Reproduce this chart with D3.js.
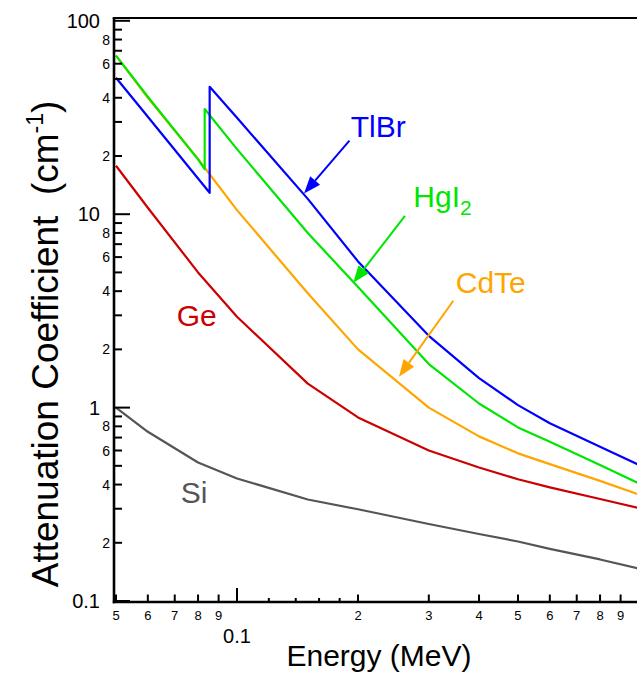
<!DOCTYPE html>
<html><head><meta charset="utf-8">
<script src="https://cdn.jsdelivr.net/npm/d3@7"></script>
<style>
html,body{margin:0;padding:0;background:#fff;overflow:hidden}
svg{display:block;font-family:"Liberation Sans",Arial,sans-serif}
</style></head>
<body>
<svg id="chart" width="637" height="677"></svg>
<script>
// ---- data ----
const energy = [0.05, 0.06, 0.08, 0.1, 0.15, 0.2, 0.3, 0.4, 0.5, 0.6, 0.8, 1.0];
const siValues   = [1.00, 0.75, 0.52, 0.43, 0.335, 0.298, 0.25, 0.222, 0.203, 0.186, 0.164, 0.147];
const geValues   = [17.8, 10.8, 5.0, 2.95, 1.33, 0.89, 0.60, 0.49, 0.426, 0.387, 0.337, 0.302];
const cdteValues = [66, 40, 19.3, 10.5, 3.9, 2.0, 1.0, 0.71, 0.58, 0.51, 0.418, 0.355];
const hgi2Energy = [0.05, 0.06, 0.08, 0.0831, 0.0831, 0.1, 0.15, 0.2, 0.3, 0.4, 0.5, 0.6, 0.8, 1.0];
const hgi2Values = [66, 40.5, 19.2, 17.1, 35, 21.7, 8.0, 4.2, 1.68, 1.05, 0.79, 0.665, 0.505, 0.405];
const tlbrEnergy = [0.05, 0.06, 0.08, 0.0855, 0.0855, 0.1, 0.15, 0.2, 0.3, 0.4, 0.5, 0.6, 0.8, 1.0];
const tlbrValues = [50.8, 31.9, 15.3, 12.9, 45.6, 31.5, 12.0, 5.7, 2.35, 1.42, 1.03, 0.83, 0.628, 0.505];

const xMinorTicks = [0.05, 0.06, 0.07, 0.08, 0.09, 0.2, 0.3, 0.4, 0.5, 0.6, 0.7, 0.8, 0.9];
const xMinorLabels = ["5","6","7","8","9","2","3","4","5","6","7","8","9"];
const xMajorTicks = [0.1];
const xMajorLabels = ["0.1"];
const xSmallTicks = [0.12, 0.14, 0.16, 0.18];
const yMajorTicks = [0.1, 1, 10, 100];
const yMajorLabels = ["0.1", "1", "10", "100"];
const yMinorTicks = [0.2,0.3,0.4,0.5,0.6,0.7,0.8,0.9, 2,3,4,5,6,7,8,9, 20,30,40,50,60,70,80,90];
const yMinorLabeled = [0.2,0.4,0.6,0.8, 2,4,6,8, 20,40,60,80];
const yMinorLabels = ["2","4","6","8","2","4","6","8","2","4","6","8"];

// series: name, color, x, y, label anchor, arrow (tail -> tip) in data coords
const series = [
  {name:"Si",   color:"#555555", x:energy, y:siValues,   label:[0.0725, 0.32]},
  {name:"Ge",   color:"#cc0000", x:energy, y:geValues,   label:[0.0708, 2.64]},
  {name:"CdTe", color:"#ffa500", x:energy, y:cdteValues, label:[0.350, 3.93], arrow:[[0.3452,3.57],[0.2529,1.445]]},
  {name:"HgI",  sub:"2", color:"#00e600", x:hgi2Energy, y:hgi2Values, label:[0.2746, 10.94], arrow:[[0.2617,9.79],[0.1946,4.42]]},
  {name:"TlBr", color:"#0000ff", x:tlbrEnergy, y:tlbrValues, label:[0.1918, 25.0], arrow:[[0.1904,24.0],[0.1468,12.8]]}
];

// ---- scales ----
const x = d3.scaleLog().domain([0.05, 1]).range([116, 639]);
const y = d3.scaleLog().domain([0.1, 100]).range([601, 20.8]);

const svg = d3.select("#chart");
svg.append("rect").attr("width",637).attr("height",677).attr("fill","#fff");

// ---- curves ----
const line = d3.line().x(d=>x(d[0])).y(d=>y(d[1]));
series.forEach(s=>{
  const pts = s.x.map((e,i)=>[e, s.y[i]]);
  svg.append("path").attr("d", line(pts)).attr("fill","none")
    .attr("stroke", s.color).attr("stroke-width", 2.2).attr("stroke-linejoin","round");
});

// ---- labels & arrows ----
series.forEach(s=>{
  const t = svg.append("text").attr("x", x(s.label[0])).attr("y", y(s.label[1]))
    .attr("font-size", 30).attr("fill", s.color).text(s.name);
  if (s.sub) t.append("tspan").attr("font-size", 21).attr("dy", 8).text(s.sub);
  if (s.arrow) {
    const [a, b] = s.arrow;
    const x1 = x(a[0]), y1 = y(a[1]), x2 = x(b[0]), y2 = y(b[1]);
    const ang = Math.atan2(y2-y1, x2-x1);
    const hl = 17, hw = 6.5;
    const bx = x2 - hl*Math.cos(ang), by = y2 - hl*Math.sin(ang);
    svg.append("line").attr("x1",x1).attr("y1",y1).attr("x2",bx).attr("y2",by)
      .attr("stroke", s.color).attr("stroke-width", 2);
    const px = -Math.sin(ang), py = Math.cos(ang);
    svg.append("path")
      .attr("d", `M${x2},${y2}L${bx+hw*px},${by+hw*py}L${bx-hw*px},${by-hw*py}Z`)
      .attr("fill", s.color);
  }
});

// ---- axes frame ----
const axisX0 = 114, axisY0 = 602;
svg.append("line").attr("x1",axisX0).attr("x2",axisX0).attr("y1",17.5).attr("y2",axisY0+1.2)
  .attr("stroke","#000").attr("stroke-width",2.6);
svg.append("line").attr("x1",axisX0-1.2).attr("x2",637).attr("y1",axisY0).attr("y2",axisY0)
  .attr("stroke","#000").attr("stroke-width",2.6);
svg.append("line").attr("x1",axisX0-1.2).attr("x2",637).attr("y1",18).attr("y2",18)
  .attr("stroke","#000").attr("stroke-width",2);

// y ticks
yMajorTicks.forEach((v,i)=>{
  svg.append("line").attr("x1",axisX0).attr("x2",axisX0+16).attr("y1",y(v)).attr("y2",y(v))
    .attr("stroke","#000").attr("stroke-width",2);
  svg.append("text").attr("x",100).attr("y",y(v)).attr("dy","0.36em")
    .attr("text-anchor","end").attr("font-size",20).text(yMajorLabels[i]);
});
yMinorTicks.forEach(v=>{
  svg.append("line").attr("x1",axisX0).attr("x2",axisX0+8).attr("y1",y(v)).attr("y2",y(v))
    .attr("stroke","#000").attr("stroke-width",2);
});
yMinorLabeled.forEach((v,i)=>{
  svg.append("text").attr("x",110).attr("y",y(v)).attr("dy","0.36em")
    .attr("text-anchor","end").attr("font-size",14).text(yMinorLabels[i]);
});

// x ticks
xMajorTicks.forEach((v,i)=>{
  svg.append("line").attr("x1",x(v)).attr("x2",x(v)).attr("y1",axisY0).attr("y2",axisY0-14)
    .attr("stroke","#000").attr("stroke-width",2);
  svg.append("text").attr("x",x(v)).attr("y",643).attr("text-anchor","middle")
    .attr("font-size",20).text(xMajorLabels[i]);
});
xMinorTicks.forEach((v,i)=>{
  svg.append("line").attr("x1",x(v)).attr("x2",x(v)).attr("y1",axisY0).attr("y2",axisY0-7.5)
    .attr("stroke","#000").attr("stroke-width",2);
  svg.append("text").attr("x",x(v)).attr("y",620).attr("text-anchor","middle")
    .attr("font-size",13).text(xMinorLabels[i]);
});
xSmallTicks.forEach(v=>{
  svg.append("line").attr("x1",x(v)).attr("x2",x(v)).attr("y1",axisY0).attr("y2",axisY0-4)
    .attr("stroke","#000").attr("stroke-width",2);
});

// ---- axis titles ----
svg.append("text").attr("x",379).attr("y",666).attr("text-anchor","middle")
  .attr("font-size",30).text("Energy (MeV)");
const yt = svg.append("text").attr("transform","translate(58,344) rotate(-90)")
  .attr("text-anchor","middle").attr("font-size",37).attr("xml:space","preserve");
yt.append("tspan").text("Attenuation Coefficient\u00a0 (cm");
yt.append("tspan").attr("font-size",23).attr("dy",-15).text("-1");
yt.append("tspan").attr("dy",15).text(")");
</script>
</body></html>
